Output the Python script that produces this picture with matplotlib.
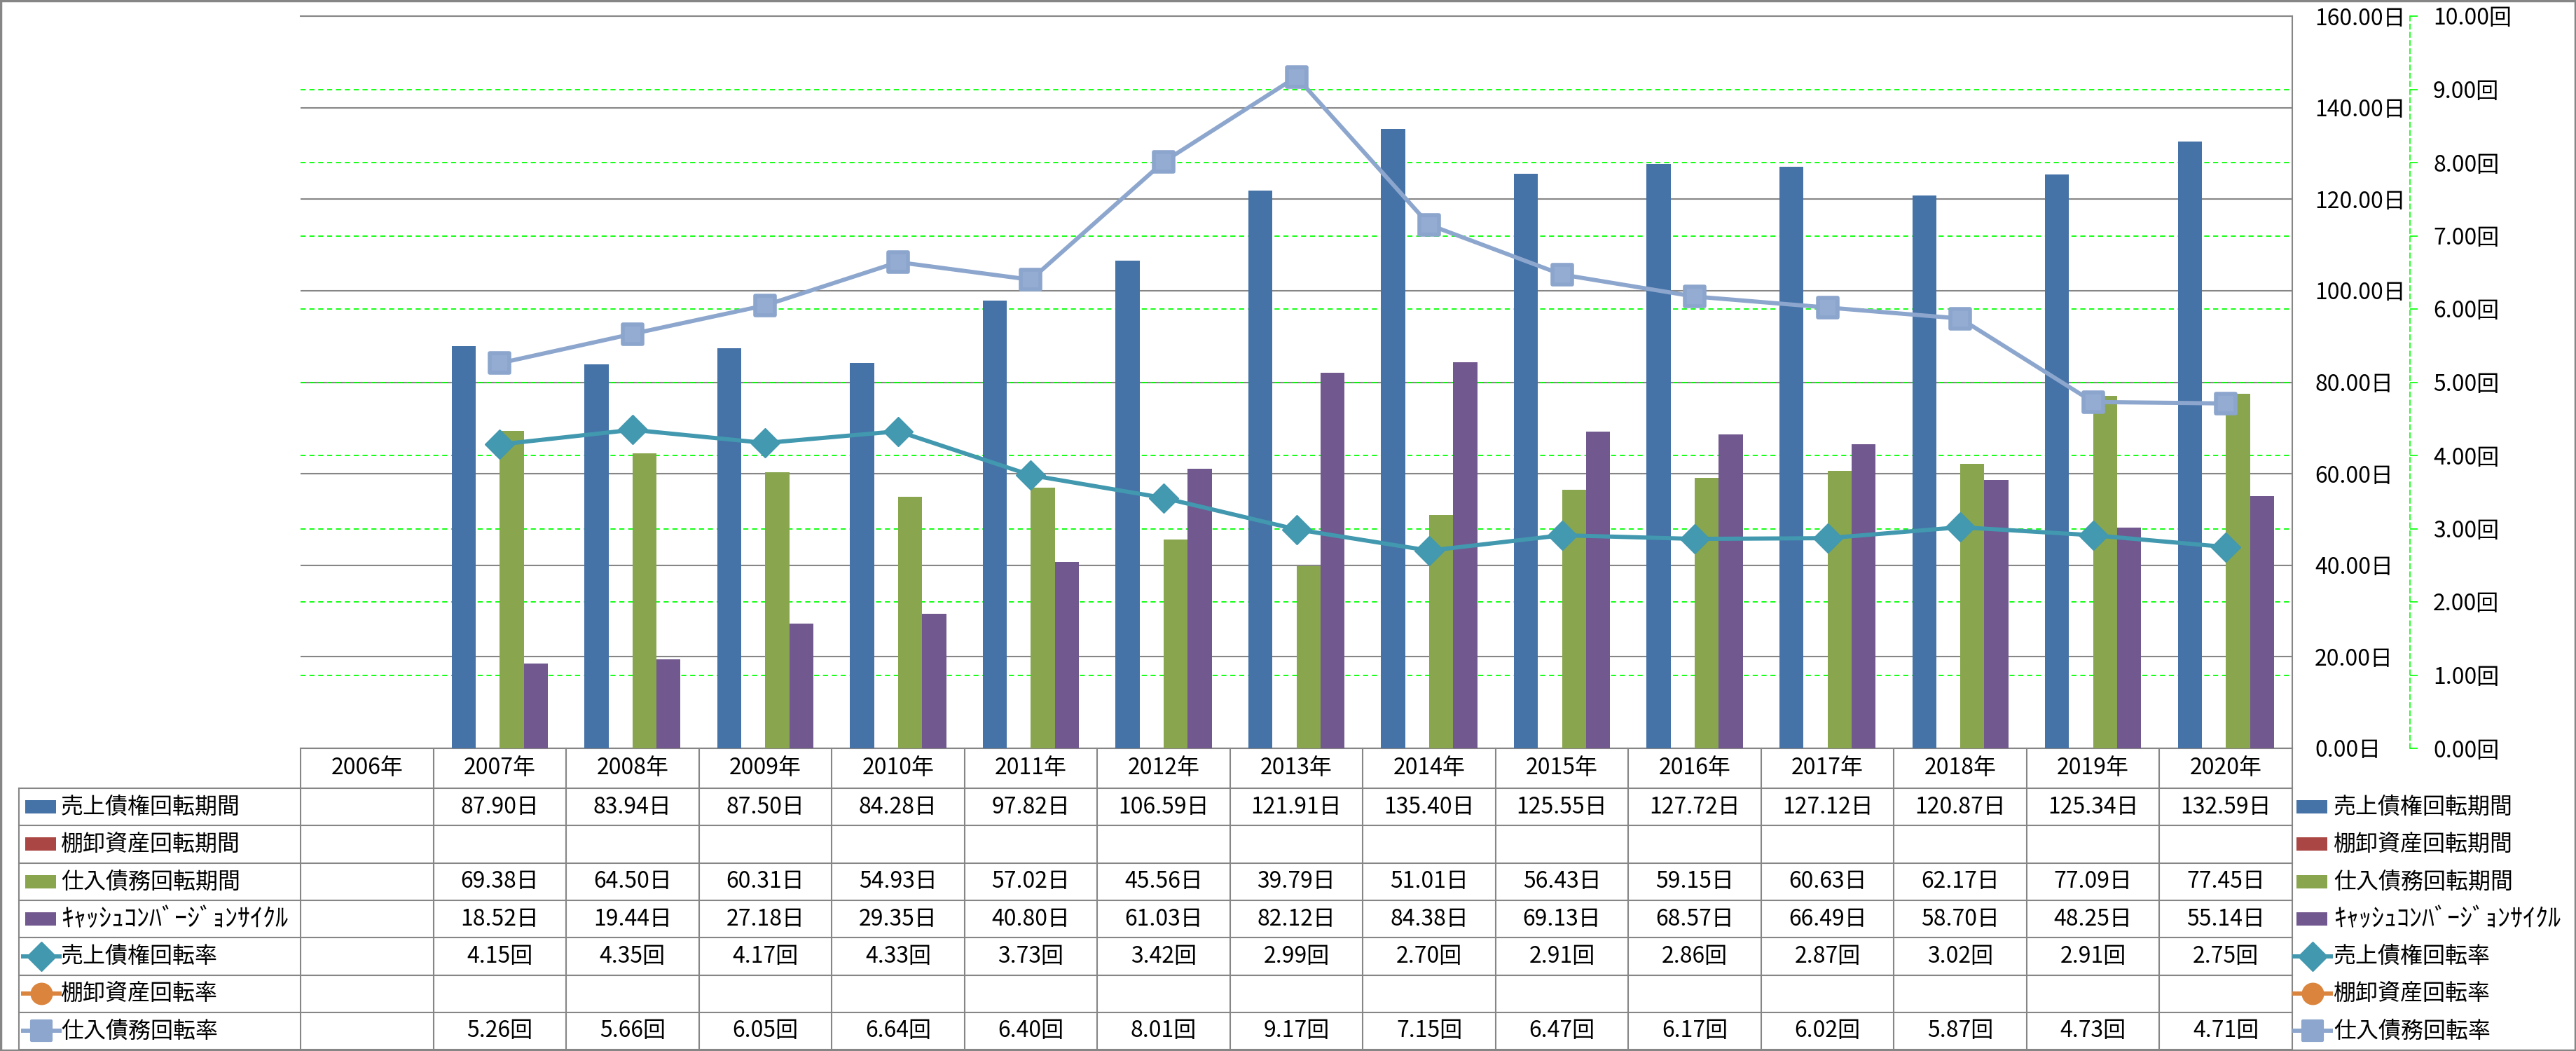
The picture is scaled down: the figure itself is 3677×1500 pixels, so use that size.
import numpy as np
import matplotlib
matplotlib.use('Agg')
import matplotlib.pyplot as plt
from matplotlib.patches import Rectangle
from matplotlib.lines import Line2D
from matplotlib.markers import MarkerStyle
from matplotlib.transforms import blended_transform_factory

plt.rcParams['font.family'] = ['Noto Sans CJK JP', 'DejaVu Sans']

nan = np.nan
years = ['2006年', '2007年', '2008年', '2009年', '2010年', '2011年', '2012年', '2013年',
         '2014年', '2015年', '2016年', '2017年', '2018年', '2019年', '2020年']

# days (left axis)
ar_days = [nan, 87.90, 83.94, 87.50, 84.28, 97.82, 106.59, 121.91, 135.40, 125.55, 127.72, 127.12, 120.87, 125.34, 132.59]
inv_days = [nan] * 15
ap_days = [nan, 69.38, 64.50, 60.31, 54.93, 57.02, 45.56, 39.79, 51.01, 56.43, 59.15, 60.63, 62.17, 77.09, 77.45]
ccc_days = [nan, 18.52, 19.44, 27.18, 29.35, 40.80, 61.03, 82.12, 84.38, 69.13, 68.57, 66.49, 58.70, 48.25, 55.14]
# turnover (right axis)
ar_turn = [nan, 4.15, 4.35, 4.17, 4.33, 3.73, 3.42, 2.99, 2.70, 2.91, 2.86, 2.87, 3.02, 2.91, 2.75]
inv_turn = [nan] * 15
ap_turn = [nan, 5.26, 5.66, 6.05, 6.64, 6.40, 8.01, 9.17, 7.15, 6.47, 6.17, 6.02, 5.87, 4.73, 4.71]

names = ['売上債権回転期間', '棚卸資産回転期間', '仕入債務回転期間', 'ｷｬｯｼｭｺﾝﾊﾞｰｼﾞｮﾝｻｲｸﾙ',
         '売上債権回転率', '棚卸資産回転率', '仕入債務回転率']
units = ['日', '日', '日', '日', '回', '回', '回']
kinds = ['bar', 'bar', 'bar', 'bar', 'D', 'o', 's']
colors = ['#4572A7', '#AA4643', '#89A54E', '#71588F', '#4198AF', '#DB843D', '#8DA6CD']
series = [ar_days, inv_days, ap_days, ccc_days, ar_turn, inv_turn, ap_turn]

GRAY = '#868686'
GREEN = '#00FF00'
FS = 23
W, H = 3677, 1500
fig = plt.figure(figsize=(W / 100, H / 100), dpi=100)
PT = 0.72  # points per pixel at dpi 100


def fx(x):
    return x / W


def fy(y):
    return 1 - y / H


L, R, T, B = 429, 3272, 23, 1068
ax = fig.add_axes([fx(L), fy(B), fx(R) - fx(L), fy(T) - fy(B)])
x = np.arange(len(years))
w = 0.181
for k, off in zip(range(4), [-1.5, -0.5, 0.5, 1.5]):
    ax.bar(x + off * w, series[k], w, color=colors[k], zorder=3)

ax2 = ax.twinx()

ax.set_xlim(-0.5, len(years) - 0.5)
ax.set_ylim(0, 160)
ax.set_xticks([])
ticks = np.arange(0, 161, 20)
ax.set_yticks(ticks)
ax.set_yticklabels([f'{t:.2f}日' for t in ticks])
ax.yaxis.tick_right()
ax.tick_params(axis='y', length=0, pad=32 * PT, labelsize=FS)
ax.grid(axis='y', color=GRAY, lw=1.5, zorder=1)
ax.set_axisbelow(True)
ax.spines['left'].set_visible(False)
for s in ['top', 'right', 'bottom']:
    ax.spines[s].set_color(GRAY)
    ax.spines[s].set_linewidth(1.5)

ax2.set_ylim(0, 10)
ticks2 = np.arange(0, 11)
ax2.set_yticks(ticks2)
ax2.set_yticklabels([f'{t:.2f}回' for t in ticks2])
ax2.tick_params(axis='y', direction='out', length=11 * PT, width=1.2, color=GREEN,
                labelcolor='black', pad=22 * PT, labelsize=FS)
for s in ['top', 'left', 'bottom']:
    ax2.spines[s].set_visible(False)
ax2.spines['right'].set_position(('outward', 168 * PT))
ax2.spines['right'].set_color(GREEN)
ax2.spines['right'].set_linewidth(1.2)
ax2.spines['right'].set_linestyle((0, (4, 3)))

# secondary gridlines drawn behind the bars
trans = blended_transform_factory(ax.transAxes, ax2.transData)
for t in ticks2[1:]:
    ax.plot([0, 1], [t, t], transform=trans, color=GREEN, lw=1.3, ls=(0, (4, 3)), zorder=1.5)

ax2.plot(x, ar_turn, color=colors[4], lw=4.3, marker='D', ms=21, mfc='#4399AF', mec=colors[4], zorder=4)
ax2.plot(x, inv_turn, color=colors[5], lw=4.3, marker='o', ms=22, zorder=4)
sq = MarkerStyle('s', joinstyle='round')
ax2.plot(x, ap_turn, color=colors[6], lw=4.3, marker=sq, ms=20, mfc='#94ABD2', mec='#8BA5CC', mew=4, zorder=4)

# data table
tab = fig.add_axes([0, 0, 1, 1], zorder=5)
tab.set_xlim(0, W)
tab.set_ylim(H, 0)
tab.axis('off')
col_edges = L + np.arange(len(years) + 1) * (R - L) / len(years)
row_edges = np.concatenate([[B], 1125 + np.arange(8) * 53.3])
TL = 27
for cx in col_edges:
    tab.plot([cx, cx], [B, row_edges[-1]], color=GRAY, lw=1.5)
for ry in row_edges[1:]:
    tab.plot([TL, R], [ry, ry], color=GRAY, lw=1.5)
tab.plot([TL, TL], [row_edges[1], row_edges[-1]], color=GRAY, lw=1.5)

for j, yr in enumerate(years):
    tab.text((col_edges[j] + col_edges[j + 1]) / 2, (row_edges[0] + row_edges[1]) / 2, yr,
             ha='center', va='center', fontsize=FS)


def key(x0, yc, k):
    if kinds[k] == 'bar':
        tab.add_patch(Rectangle((x0 + 3, yc - 9.5), 44, 19, color=colors[k], lw=0))
    else:
        mk = sq if kinds[k] == 's' else kinds[k]
        ms = {'D': 21, 'o': 22, 's': 20}[kinds[k]]
        tab.add_line(Line2D([x0, x0 + 52], [yc, yc], color=colors[k], lw=4.3))
        tab.add_line(Line2D([x0 + 26], [yc], marker=mk, ms=ms, color=colors[k], mew=3 if kinds[k] == 's' else 1))


for i in range(len(names)):
    yc = (row_edges[i + 1] + row_edges[i + 2]) / 2
    fs = FS + 3 if i == 3 else FS
    key(33, yc, i)
    tab.text(87, yc, names[i], ha='left', va='center', fontsize=fs)
    key(3275, yc, i)
    tab.text(3331, yc, names[i], ha='left', va='center', fontsize=fs)
    for j, v in enumerate(series[i]):
        if not np.isnan(v):
            tab.text((col_edges[j] + col_edges[j + 1]) / 2, yc, f'{v:.2f}{units[i]}',
                     ha='center', va='center', fontsize=FS)

tab.add_patch(Rectangle((1, 1), W - 2.5, H - 2.5, fill=False, ec=GRAY, lw=2.5))

fig.savefig('out.png', dpi=100)
